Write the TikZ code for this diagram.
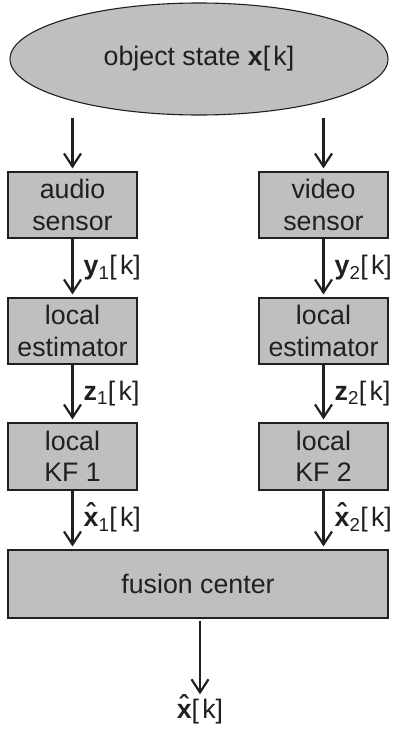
\documentclass[tikz,border=0pt]{standalone}
\usepackage{fontspec}
\setmainfont{Liberation Sans}
\usetikzlibrary{shapes.geometric,arrows.meta}
\definecolor{boxgray}{RGB}{190,191,193}
\definecolor{ink}{RGB}{35,31,32}
% bold x with a small bold hat
\newcommand{\hatbx}{\leavevmode\hbox{\ooalign{\textbf{x}\cr\hidewidth\raisebox{0.15em}{\textbf{\char"02C6}}\hidewidth\cr}}}
\newcommand{\kk}{[\kern0.12em k]}
\tikzset{
  blk/.style={draw=ink, fill=boxgray, line width=1.1pt, align=center,
    inner sep=0pt, text=ink, font=\fontsize{26.75}{31.5}\selectfont},
  sig/.style={text=ink, inner sep=0pt, font=\fontsize{26.75}{31.5}\selectfont},
  arr/.style={draw=ink, line width=2.4pt, shorten >=3pt,
    -{Straight Barb[length=13pt,width=17pt,line width=2.2pt]}},
  lbl/.style={sig, anchor=west, xshift=10pt}
}
\begin{document}
\begin{tikzpicture}[x=1pt,y=-1pt]
\useasboundingbox (0,0) rectangle (395,731);
\node[blk, ellipse, minimum width=378pt, minimum height=112pt] (state) at (199,59) {object state \textbf{x}\kk};

\node[blk, minimum width=129pt, minimum height=66pt] (audio) at (72.5,205) {audio\\sensor};
\node[blk, minimum width=129pt, minimum height=66pt] (video) at (323.5,205) {video\\sensor};
\node[blk, minimum width=129pt, minimum height=66pt] (est1) at (72.5,331) {local\\estimator};
\node[blk, minimum width=129pt, minimum height=66pt] (est2) at (323.5,331) {local\\estimator};
\node[blk, minimum width=129pt, minimum height=67pt] (kf1) at (72.5,456.5) {local\\KF 1};
\node[blk, minimum width=129pt, minimum height=67pt] (kf2) at (323.5,456.5) {local\\KF 2};
\node[blk, minimum width=380pt, minimum height=68pt] (fusion) at (198,584) {fusion center};
\node[sig] (out) at (200,712) {\hatbx\kk};

\draw[arr] ([yshift=-2pt]state.south -| audio.north) -- (audio.north);
\draw[arr] ([yshift=-2pt]state.south -| video.north) -- (video.north);
\draw[arr] (audio.south) -- (est1.north) node[lbl, midway] {\textbf{y}\textsubscript{1}\kk};
\draw[arr] (video.south) -- (est2.north) node[lbl, midway] {\textbf{y}\textsubscript{2}\kk};
\draw[arr] (est1.south) -- (kf1.north) node[lbl, midway] {\textbf{z}\textsubscript{1}\kk};
\draw[arr] (est2.south) -- (kf2.north) node[lbl, midway] {\textbf{z}\textsubscript{2}\kk};
\draw[arr] (kf1.south) -- (kf1.south |- fusion.north) node[lbl, midway] {\hatbx\textsubscript{1}\kk};
\draw[arr] (kf2.south) -- (kf2.south |- fusion.north) node[lbl, midway] {\hatbx\textsubscript{2}\kk};
\draw[arr, shorten <=2pt, shorten >=5pt] ([xshift=2pt]fusion.south) -- (out.north);
\end{tikzpicture}
\end{document}
